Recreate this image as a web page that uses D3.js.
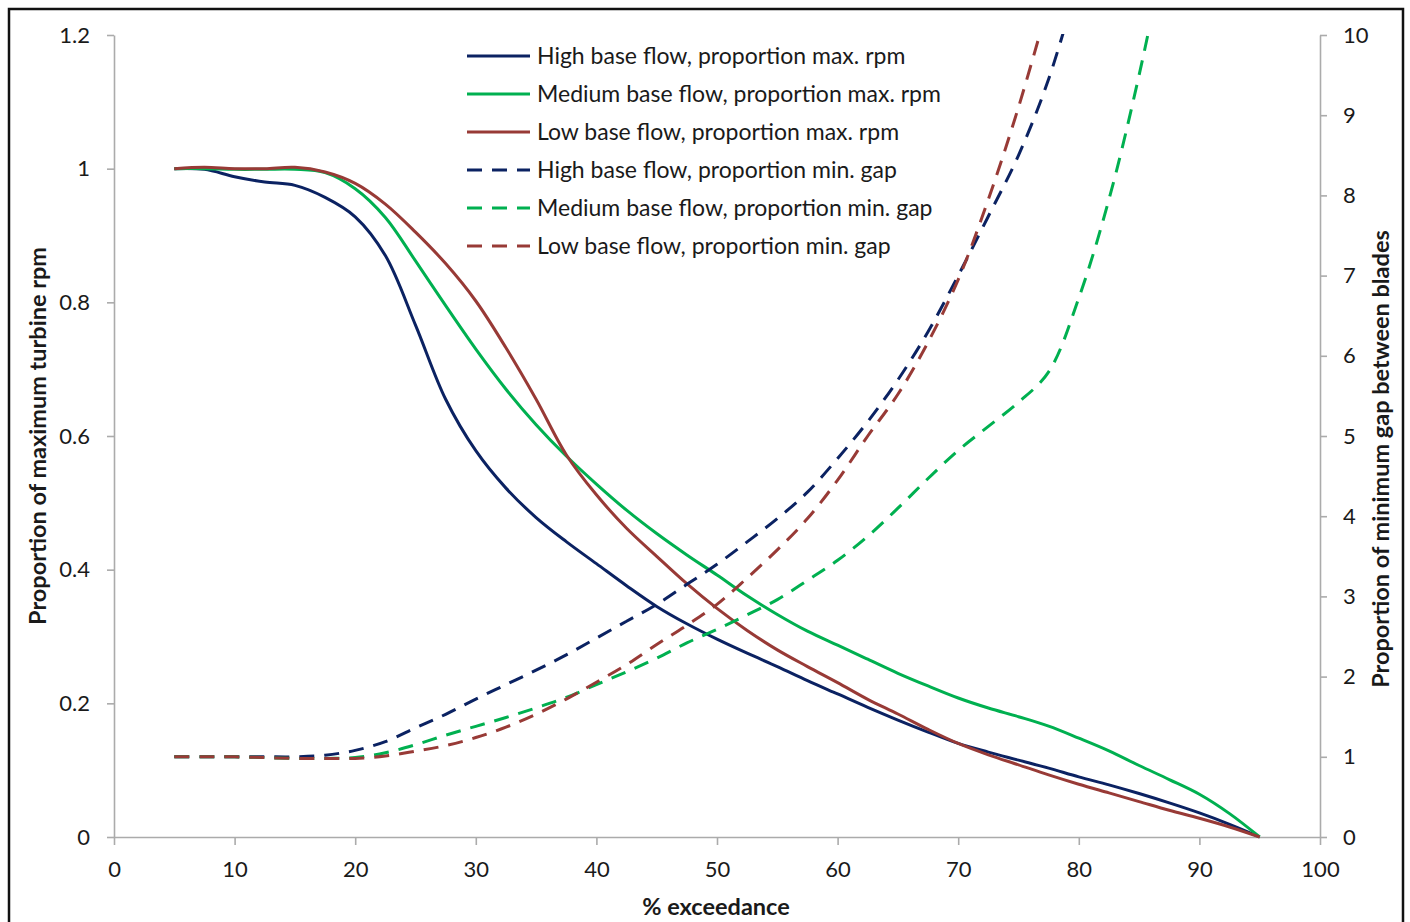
<!DOCTYPE html>
<html>
<head>
<meta charset="utf-8">
<script src="https://cdn.jsdelivr.net/npm/d3@7"></script>
<style>
  html, body { margin: 0; padding: 0; background: #fff; }
  svg text { font-family: Lato, "Open Sans", sans-serif; fill: #1a1a1a; }
</style>
</head>
<body>
<div id="chart"></div>
<script>
// % exceedance, shared by all six series
const exceedance = [5, 7.5, 10, 12.5, 15, 17.5, 20, 22.5, 25, 27.5, 30, 32.5, 35, 37.5, 40, 42.5, 45, 47.5,
                    50, 52.5, 55, 57.5, 60, 62.5, 65, 67.5, 70, 72.5, 75, 77.5, 80, 82.5, 85, 87.5, 90, 92.5, 95];

// proportion of maximum turbine rpm (left axis)
const highRpm = [1.000, 0.999, 0.988, 0.980, 0.975, 0.957, 0.928, 0.870, 0.766, 0.655, 0.578, 0.522, 0.478, 0.442,
                 0.409, 0.376, 0.345, 0.319, 0.296, 0.275, 0.255, 0.234, 0.214, 0.194, 0.175, 0.157, 0.140, 0.127,
                 0.115, 0.103, 0.090, 0.078, 0.065, 0.051, 0.036, 0.019, 0];
const medRpm  = [1.000, 1.000, 0.999, 0.999, 0.999, 0.994, 0.970, 0.927, 0.862, 0.795, 0.730, 0.670, 0.617, 0.570,
                 0.528, 0.489, 0.454, 0.422, 0.392, 0.361, 0.333, 0.308, 0.287, 0.266, 0.245, 0.226, 0.208, 0.193,
                 0.180, 0.166, 0.148, 0.129, 0.107, 0.086, 0.064, 0.035, 0];
const lowRpm  = [1.000, 1.002, 1.000, 1.000, 1.002, 0.995, 0.978, 0.947, 0.905, 0.858, 0.802, 0.732, 0.655, 0.572,
                 0.512, 0.462, 0.420, 0.379, 0.342, 0.309, 0.280, 0.255, 0.231, 0.206, 0.184, 0.161, 0.140, 0.123,
                 0.108, 0.093, 0.079, 0.066, 0.053, 0.040, 0.028, 0.015, 0];

// proportion of minimum gap between blades (right axis)
const highGap = [1.00, 1.00, 1.00, 1.00, 1.00, 1.02, 1.08, 1.19, 1.36, 1.53, 1.72, 1.90, 2.08, 2.27, 2.48, 2.69,
                 2.90, 3.15, 3.40, 3.68, 3.97, 4.30, 4.72, 5.18, 5.70, 6.30, 7.00, 7.74, 8.50, 9.45, 10.70,
                 null, null, null, null, null, null];
const medGap  = [1.00, 1.00, 1.00, 0.99, 0.98, 0.98, 0.99, 1.05, 1.15, 1.27, 1.38, 1.49, 1.61, 1.74, 1.90, 2.06,
                 2.23, 2.42, 2.59, 2.77, 2.96, 3.20, 3.45, 3.75, 4.10, 4.47, 4.82, 5.12, 5.42, 5.80, 6.72,
                 7.95, 9.50, 11.30, null, null, null];
const lowGap  = [1.00, 1.00, 1.00, 0.99, 0.98, 0.98, 0.98, 1.01, 1.07, 1.14, 1.24, 1.37, 1.53, 1.72, 1.93, 2.15,
                 2.40, 2.64, 2.90, 3.23, 3.58, 3.97, 4.45, 5.00, 5.52, 6.17, 6.95, 7.95, 9.10, 10.40,
                 null, null, null, null, null, null, null];

const seriesNames = ["High base flow, proportion max. rpm", "Medium base flow, proportion max. rpm",
                     "Low base flow, proportion max. rpm", "High base flow, proportion min. gap",
                     "Medium base flow, proportion min. gap", "Low base flow, proportion min. gap"];

const leftTicks = [0, 0.2, 0.4, 0.6, 0.8, 1, 1.2];
const rightTicks = [0, 1, 2, 3, 4, 5, 6, 7, 8, 9, 10];
const xTicks = [0, 10, 20, 30, 40, 50, 60, 70, 80, 90, 100];

const W = 1410, H = 922;
const plot = {left: 114, right: 1320, top: 35, bottom: 837};

const navy = "#0b2262", green = "#00b050", red = "#983a36";

const svg = d3.select("#chart").append("svg")
              .attr("width", W).attr("height", H);

svg.append("rect").attr("width", W).attr("height", H).attr("fill", "#fff");

// outer frame
svg.append("path")
   .attr("d", `M9,${H + 2} L9,9 L1403,9 L1403,${H + 2}`)
   .attr("fill", "none").attr("stroke", "#111").attr("stroke-width", 2.5);

const x = d3.scaleLinear().domain([0, 100]).range([plot.left, plot.right]);
const yL = d3.scaleLinear().domain([0, 1.2]).range([plot.bottom, plot.top]);
const yR = d3.scaleLinear().domain([0, 10]).range([plot.bottom, plot.top]);

const fmt = d => String(+d.toFixed(1));

function styleAxis(g) {
  g.select(".domain").attr("stroke", "#ababab").attr("stroke-width", 1.6);
  g.selectAll(".tick line").attr("stroke", "#ababab").attr("stroke-width", 1.6);
  g.selectAll(".tick text").style("font-size", "22px").attr("fill", "#1a1a1a");
}

svg.append("g")
   .attr("transform", `translate(${plot.left},0)`)
   .call(d3.axisLeft(yL).tickValues(leftTicks).tickFormat(fmt).tickSize(7).tickSizeOuter(0).tickPadding(17))
   .call(styleAxis);

svg.append("g")
   .attr("transform", `translate(${plot.right},0)`)
   .call(d3.axisRight(yR).tickValues(rightTicks).tickFormat(fmt).tickSize(7).tickSizeOuter(0).tickPadding(16))
   .call(styleAxis);

svg.append("g")
   .attr("transform", `translate(0,${plot.bottom})`)
   .call(d3.axisBottom(x).tickValues(xTicks).tickFormat(fmt).tickSize(8).tickSizeOuter(0).tickPadding(16))
   .call(styleAxis);

// axis titles
svg.append("text")
   .attr("transform", `translate(46,${(plot.top + plot.bottom) / 2}) rotate(-90)`)
   .attr("text-anchor", "middle")
   .style("font-size", "23.5px").style("font-weight", "bold")
   .text("Proportion of maximum turbine rpm");

svg.append("text")
   .attr("transform", `translate(1389,${(plot.top + plot.bottom) / 2 + 23}) rotate(-90)`)
   .attr("text-anchor", "middle")
   .style("font-size", "23.5px").style("font-weight", "bold")
   .text("Proportion of minimum gap between blades");

svg.append("text")
   .attr("x", 716).attr("y", 915)
   .attr("text-anchor", "middle")
   .style("font-size", "23.5px").style("font-weight", "bold")
   .text("% exceedance");

// lines
svg.append("clipPath").attr("id", "plotClip")
   .append("rect")
   .attr("x", plot.left).attr("y", plot.top - 1)
   .attr("width", plot.right - plot.left).attr("height", plot.bottom - plot.top + 4);

const series = [
  {values: highRpm, scale: yL, color: navy,  dash: null},
  {values: medRpm,  scale: yL, color: green, dash: null},
  {values: lowRpm,  scale: yL, color: red,   dash: null},
  {values: highGap, scale: yR, color: navy,  dash: "15,10"},
  {values: medGap,  scale: yR, color: green, dash: "15,10"},
  {values: lowGap,  scale: yR, color: red,   dash: "15,10"}
];

const lines = svg.append("g").attr("clip-path", "url(#plotClip)");

series.forEach(s => {
  const pts = exceedance.map((e, i) => [e, s.values[i]]).filter(p => p[1] !== null);
  const line = d3.line()
                 .x(p => x(p[0]))
                 .y(p => s.scale(p[1]))
                 .curve(d3.curveCatmullRom.alpha(0.5));
  lines.append("path")
       .attr("d", line(pts))
       .attr("fill", "none")
       .attr("stroke", s.color)
       .attr("stroke-width", 3)
       .attr("stroke-dasharray", s.dash);
});

// legend
const legend = svg.append("g").attr("transform", "translate(467,56)");
series.forEach((s, i) => {
  const row = legend.append("g").attr("transform", `translate(0,${i * 38})`);
  row.append("line")
     .attr("x1", 0).attr("x2", 63).attr("y1", 0).attr("y2", 0)
     .attr("stroke", s.color).attr("stroke-width", 3)
     .attr("stroke-dasharray", s.dash);
  row.append("text")
     .attr("x", 70).attr("y", 8)
     .style("font-size", "23px")
     .text(seriesNames[i]);
});
</script>
</body>
</html>
